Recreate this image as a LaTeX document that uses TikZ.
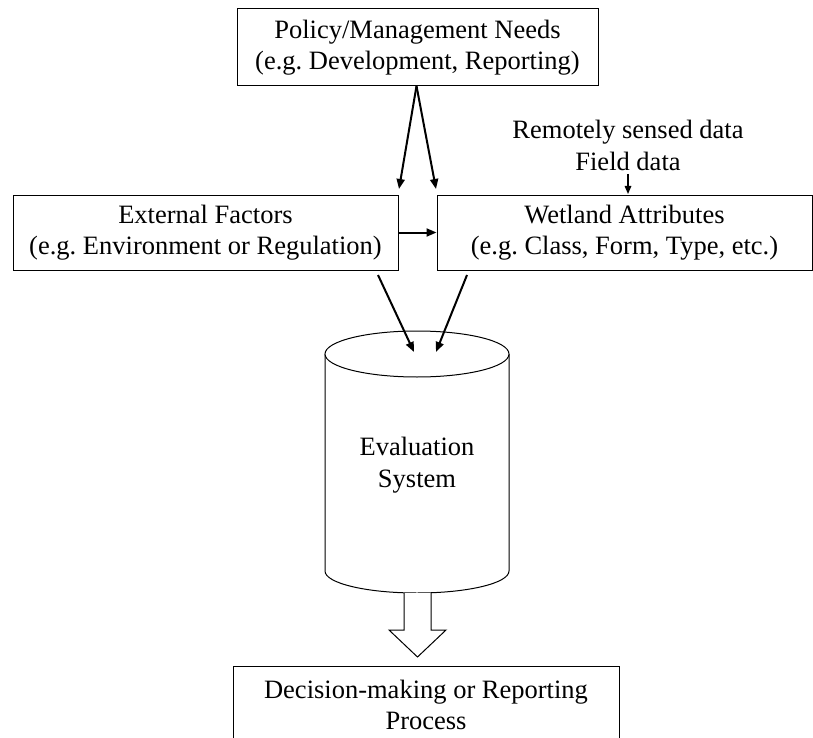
\documentclass[tikz,border=0pt]{standalone}
\usepackage{fontspec}
\setmainfont{Liberation Serif}
\usetikzlibrary{arrows.meta}
\frenchspacing
\begin{document}
\begin{tikzpicture}[x=1pt,y=-1pt,
  box/.style={draw, line width=1pt, inner sep=0pt, align=center, font=\fontsize{26.5}{31}\selectfont},
  lbl/.style={inner sep=0pt, align=center, font=\fontsize{26.5}{31}\selectfont},
  arr/.style={line width=2pt, -{Triangle[length=10pt,width=8pt]}},
  thinarr/.style={line width=1.5pt, -{Triangle[length=8pt,width=6.5pt]}}]
\useasboundingbox (0,0) rectangle (813,738);
\fill[white] (0,0) rectangle (813,738);

% boxes
\node[box, minimum width=361pt, minimum height=77pt] (policy) at (417.5,47.5)
  {Policy/Management Needs\\(e.g. Development, Reporting)};
\node[box, minimum width=385pt, minimum height=75pt] (ext) at (205.5,232.5)
  {External Factors\\(e.g. Environment or Regulation)};
\node[box, minimum width=375pt, minimum height=75pt] (wet) at (624.5,232.5)
  {Wetland Attributes\\(e.g. Class, Form, Type, etc.)};
\node[box, minimum width=386pt, minimum height=78pt] (dec) at (426,705)
  {Decision-making or Reporting\\Process};

\node[lbl, font=\fontsize{26.5}{32}\selectfont] (remote) at (628,145) {Remotely sensed data\\Field data};

% cylinder
\draw[line width=1pt] (325,354) -- (325,571) arc[start angle=180,end angle=360,x radius=92,y radius=-22] -- (509,354);
\draw[line width=1pt, fill=white] (417,354) ellipse [x radius=92, y radius=23];
\coordinate (cyltop) at (417,354);
\coordinate (cylbot) at (417,593);
\node[lbl, font=\fontsize{26.5}{32}\selectfont] (evalsys) at (417,465) {Evaluation\\System};

% connector coordinates
\coordinate (pstart) at (416.5,86);
\coordinate (pend1) at (399,189);
\coordinate (pend2) at (436,189);
\coordinate (estart) at (378,275);
\coordinate (eend) at (414,352);
\coordinate (wstart) at (467,275);
\coordinate (wend) at (436,352);
\coordinate (rstart) at (628,174);
\coordinate (rend) at (628,194);

\draw[arr] (pstart) -- (pend1);
\draw[arr] (pstart) -- (pend2);
\draw[arr] (ext.east) -- (wet.west);
\draw[arr] (estart) -- (eend);
\draw[arr] (wstart) -- (wend);
\draw[thinarr] (rstart) -- (rend);

% hollow block arrow
\draw[line width=1pt, fill=white] (404,593) -- (404,630) -- (389,630) -- (417.5,657) -- (446,630) -- (431,630) -- (431,593);
\end{tikzpicture}
\end{document}
